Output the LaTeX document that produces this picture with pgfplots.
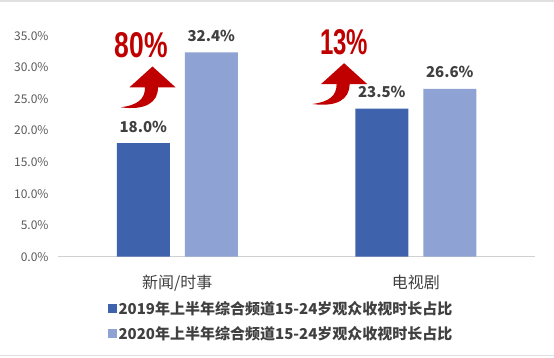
\documentclass[border=0pt]{standalone}
\usepackage{pgfplots}
\pgfplotsset{compat=1.18}
\usepackage{fontspec}
\setmainfont{Noto Sans CJK SC}
\newfontfamily\impactfont{Liberation Sans}
\definecolor{barA}{HTML}{3F62AC}
\definecolor{barB}{HTML}{8EA3D3}
\definecolor{txt}{HTML}{404040}
\definecolor{tickc}{HTML}{595959}
\definecolor{arrowred}{HTML}{C00000}
\begin{document}
\begin{tikzpicture}[x=1pt,y=1pt]
\path[use as bounding box] (0,0) rectangle (554,357);
\draw[black!12, line width=1.2pt] (0,356) -- (554,356);
\draw[black!12, line width=1pt] (0,2) -- (554,2);
\begin{axis}[
  at={(58pt,100.3pt)}, anchor=south west,
  scale only axis, width=477pt, height=220.7pt,
  xmin=-0.5, xmax=1.5, ymin=0, ymax=35,
  ybar=15pt, bar width=53pt,
  axis x line*=bottom, axis y line*=left,
  y axis line style={draw=none},
  x axis line style={draw=black!18, line width=1pt, -},
  major tick length=0pt,
  xtick={0,1}, xticklabels={新闻/时事,电视剧},
  ytick={0,5,...,35},
  /pgf/number format/assume math mode=true,
  yticklabel={\pgfmathprintnumber[fixed,fixed zerofill,precision=1]{\tick}\%},
  y tick label style={font=\fontsize{12}{12}\selectfont, text=tickc, xshift=-6pt},
  x tick label style={font=\fontsize{16}{16}\selectfont, text=txt, yshift=-15pt},
  nodes near coords={\pgfmathprintnumber[fixed,fixed zerofill,precision=1]{\pgfplotspointmeta}\%},
  nodes near coords style={font=\bfseries\fontsize{15}{15}\selectfont, text=txt, anchor=base, yshift=11pt, inner sep=0pt},
  legend cell align=left,
  legend image code/.code={\fill[#1] (0pt,-4pt) rectangle (8.5pt,4.5pt);},
  legend style={at={(0.468,-0.185)}, anchor=north, draw=none, fill=none,
    font=\bfseries\fontsize{15}{15}\selectfont, text=txt, row sep=6pt,
    /tikz/every even column/.append style={column sep=4pt}},
]
\addplot[fill=barA, draw=none] coordinates {(0,18.0) (1,23.5)};
\addplot[fill=barB, draw=none] coordinates {(0,32.4) (1,26.6)};
\legend{2019年上半年综合频道15-24岁观众收视时长占比, 2020年上半年综合频道15-24岁观众收视时长占比}
\end{axis}
% growth arrows
\fill[arrowred] (120.7,249.7) .. controls (138,252) and (145,258) .. (145,269.7) -- (129.5,269.7) -- (152.5,290.5) -- (175.5,269.7) -- (158,269.7) .. controls (158,254) and (145,246.5) .. (120.7,249.7) -- cycle;
\begin{scope}[shift={(191.6,3.3)}]
\fill[arrowred] (120.7,249.7) .. controls (138,252) and (145,258) .. (145,269.7) -- (129.5,269.7) -- (152.5,290.5) -- (175.5,269.7) -- (158,269.7) .. controls (158,254) and (145,246.5) .. (120.7,249.7) -- cycle;
\end{scope}
\node[text=arrowred, inner sep=0pt] at (141.5,311.5) {\resizebox{53pt}{25pt}{\impactfont\bfseries 80\%}};
\node[text=arrowred, inner sep=0pt] at (344,314.5) {\resizebox{48pt}{25pt}{\impactfont\bfseries 13\%}};
\end{tikzpicture}
\end{document}
